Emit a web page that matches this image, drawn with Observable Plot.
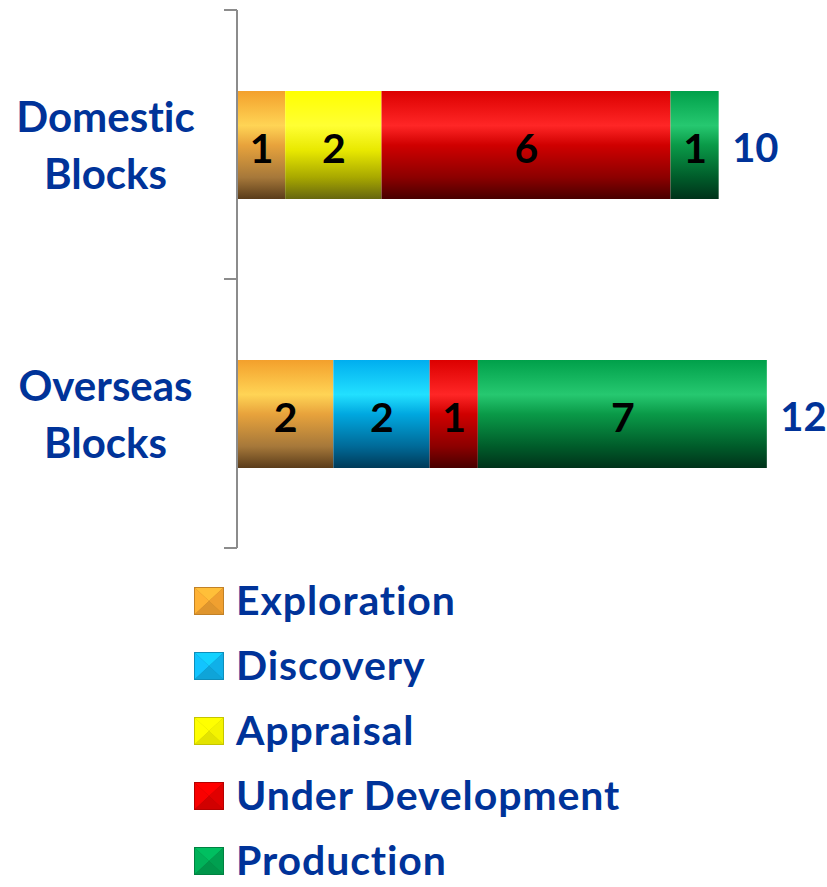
<!DOCTYPE html>
<html>
<head>
<meta charset="utf-8">
<script src="https://cdn.jsdelivr.net/npm/d3@7"></script>
<script src="https://cdn.jsdelivr.net/npm/@observablehq/plot@0.6"></script>
<style>
  html, body { margin: 0; padding: 0; background: #fff; }
  #chart { width: 827px; font-variant-ligatures: none; }
  #chart svg text { font-variant-ligatures: none; }
  .legend { padding-top: 8px; margin-left: 194px; font-family: Lato, "Open Sans", sans-serif; font-weight: 700; color: #003399; }
  .legend .row { height: 65px; display: flex; align-items: center; font-size: 41px; }
  .legend .row span { display: inline-block; line-height: 0.95; letter-spacing: 0.9px; }
  .legend svg { margin-right: 12px; flex: none; }
</style>
</head>
<body>
<div id="chart"></div>
<script>
// ---- data ----
const categories = ["Domestic\nBlocks", "Overseas\nBlocks"];
const stages = ["Exploration", "Discovery", "Appraisal", "Under Development", "Production"];
const domesticLabels = [1, 0, 2, 6, 1];
const overseasLabels = [2, 2, 0, 1, 7];
// segment lengths as drawn in the picture (the "7" segment is drawn 6 units long)
const domesticLengths = [1, 0, 2, 6, 1];
const overseasLengths = [2, 2, 0, 1, 6];
const totals = [10, 12];

const gradients = {
  "Exploration":       [["0", "#F3A02C"], ["0.32", "#FFD455"], ["0.5", "#E8A33C"], ["0.8", "#A6783A"], ["1", "#5A3C1A"]],
  "Discovery":         [["0", "#00AEEF"], ["0.32", "#22E0FF"], ["0.5", "#00A8E0"], ["0.8", "#006A98"], ["1", "#003A58"]],
  "Appraisal":         [["0", "#FFFF00"], ["0.32", "#FFFF33"], ["0.55", "#E8E800"], ["0.8", "#A8A800"], ["1", "#66660F"]],
  "Under Development": [["0", "#DC0000"], ["0.32", "#FF2626"], ["0.5", "#D00000"], ["0.8", "#8C0000"], ["1", "#480000"]],
  "Production":        [["0", "#00A04A"], ["0.32", "#26C870"], ["0.5", "#0A9A48"], ["0.8", "#005C2A"], ["1", "#00321A"]]
};
const baseColors = {
  "Exploration": "#F0A030", "Discovery": "#10B0E8", "Appraisal": "#F4F400",
  "Under Development": "#E00000", "Production": "#00A050"
};

const rows = [];
categories.forEach((c, ci) => {
  const labels = ci === 0 ? domesticLabels : overseasLabels;
  const lengths = ci === 0 ? domesticLengths : overseasLengths;
  stages.forEach((s, si) => {
    if (labels[si] > 0) rows.push({cat: c, stage: s, length: lengths[si], label: labels[si]});
  });
});
const totalRows = categories.map((c, i) => ({
  cat: c,
  end: d3.sum(i === 0 ? domesticLengths : overseasLengths),
  total: totals[i]
}));
const gradId = s => "grad-" + stages.indexOf(s);

// axis ticks at the frame top, middle and bottom (boundaries between bands)
function bandTicks(index, scales, values, dims) {
  const g = d3.create("svg:g").attr("stroke", "#8c8c8c").attr("stroke-width", 2);
  const x0 = dims.marginLeft;
  const top = dims.marginTop, bottom = dims.height - dims.marginBottom;
  [top, (top + bottom) / 2, bottom].forEach(y => {
    g.append("line").attr("x1", x0 - 13).attr("x2", x0).attr("y1", y).attr("y2", y);
  });
  g.append("line").attr("x1", x0).attr("x2", x0).attr("y1", top).attr("y2", bottom);
  return g.node();
}

const plot = Plot.plot({
  width: 827,
  height: 560,
  marginLeft: 237,
  marginRight: 12,
  marginTop: 10,
  marginBottom: 12,
  style: {fontFamily: "Lato, 'Open Sans', sans-serif", fontWeight: 700, background: "#fff", overflow: "visible"},
  x: {domain: [0, 12], axis: null},
  y: {domain: categories, axis: null, paddingInner: 0.6, paddingOuter: 0.3},
  color: {domain: stages, range: stages.map(s => `url(#${gradId(s)})`)},
  marks: [
    Plot.barX(rows, Plot.stackX({x: "length", y: "cat", fill: "stage", order: stages})),
    Plot.text(rows, Plot.stackX({x: "length", y: "cat", z: "stage", order: stages, text: "label",
      fill: "#000", fontSize: 41, fontWeight: 700, dy: 4})),
    Plot.text(totalRows, {x: "end", y: "cat", text: "total", textAnchor: "start", dx: 13, dy: 4,
      fill: "#003399", fontSize: 40, fontWeight: 700}),
    Plot.text(categories, {y: d => d, text: d => d, frameAnchor: "left", dx: -132, dy: -3, textAnchor: "middle",
      lineHeight: 1.36, fill: "#003399", fontSize: 42, fontWeight: 700}),
    bandTicks
  ]
});

// gradient definitions used by the color scale range
const svg = d3.select(plot.tagName.toLowerCase() === "svg" ? plot : plot.querySelector("svg"));
const defs = svg.insert("defs", ":first-child");
stages.forEach(s => {
  const lg = defs.append("linearGradient").attr("id", gradId(s))
    .attr("x1", 0).attr("y1", 0).attr("x2", 0).attr("y2", 1);
  gradients[s].forEach(([o, c]) => lg.append("stop").attr("offset", o).attr("stop-color", c));
});

const chart = document.getElementById("chart");
chart.appendChild(plot);

// legend below the chart
const legend = d3.select(chart).append("div").attr("class", "legend");
stages.forEach(s => {
  const row = legend.append("div").attr("class", "row");
  const sw = row.append("svg").attr("width", 30).attr("height", 28);
  const c = d3.color(baseColors[s]);
  const w = 30, h = 28;
  sw.append("rect").attr("width", w).attr("height", h).attr("fill", c.darker(0.6));
  sw.append("polygon").attr("points", `1,1 ${w-1},1 ${w/2},${h/2}`).attr("fill", c.brighter(0.5));
  sw.append("polygon").attr("points", `1,1 1,${h-1} ${w/2},${h/2}`).attr("fill", c.brighter(0.3));
  sw.append("polygon").attr("points", `${w-1},1 ${w-1},${h-1} ${w/2},${h/2}`).attr("fill", c);
  sw.append("polygon").attr("points", `1,${h-1} ${w-1},${h-1} ${w/2},${h/2}`).attr("fill", c.darker(0.2));
  row.append("span").text(s);
});
</script>
</body>
</html>
